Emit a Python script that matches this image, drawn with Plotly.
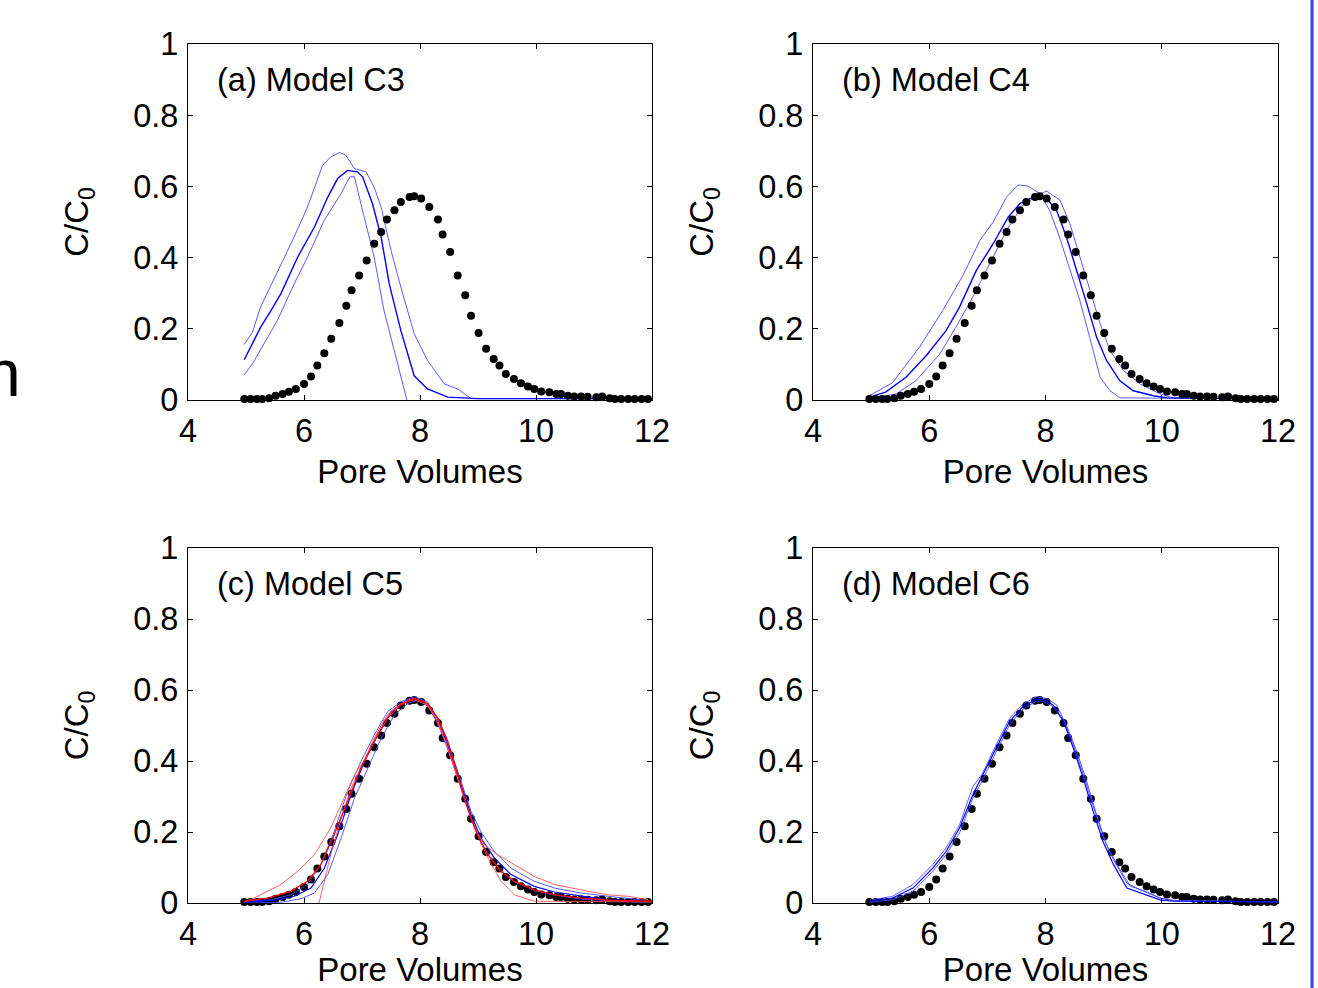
import plotly.graph_objects as go

# ---------------- data ----------------
obs_x = [4.97, 5.08, 5.19, 5.28, 5.40, 5.51, 5.63, 5.74, 5.86, 6.00, 6.12, 6.23, 6.35, 6.47, 6.61,
         6.73, 6.82, 6.95, 7.08, 7.21, 7.33, 7.43, 7.56, 7.67, 7.82, 7.90, 8.02, 8.16, 8.31, 8.39,
         8.52, 8.65, 8.78, 8.88, 9.01, 9.14, 9.27, 9.37, 9.48, 9.62, 9.74, 9.86, 9.97, 10.09, 10.23,
         10.35, 10.43, 10.55, 10.66, 10.78, 10.89, 11.04, 11.14, 11.27, 11.36, 11.47, 11.59, 11.70,
         11.82, 11.93]
obs_y = [0.003, 0.003, 0.003, 0.003, 0.005, 0.012, 0.017, 0.023, 0.031, 0.045, 0.066, 0.097, 0.131,
         0.172, 0.216, 0.265, 0.308, 0.350, 0.392, 0.439, 0.472, 0.507, 0.533, 0.556, 0.570, 0.572,
         0.566, 0.542, 0.507, 0.465, 0.416, 0.350, 0.294, 0.237, 0.188, 0.144, 0.115, 0.097, 0.073,
         0.059, 0.047, 0.038, 0.031, 0.024, 0.022, 0.017, 0.017, 0.012, 0.010, 0.010, 0.009, 0.008,
         0.010, 0.005, 0.003, 0.003, 0.003, 0.003, 0.003, 0.003]

# (a) Model C3
a_mid_x = [4.97, 5.25, 5.43, 5.60, 5.89, 6.18, 6.41, 6.58, 6.75, 6.92, 7.01, 7.18, 7.33, 7.47, 7.67, 7.90, 8.13, 8.48, 9.0, 12.0]
a_mid_y = [0.113, 0.204, 0.251, 0.298, 0.401, 0.486, 0.570, 0.622, 0.645, 0.641, 0.627, 0.552, 0.458, 0.326, 0.195, 0.068, 0.031, 0.008, 0.004, 0.004]
a_up_x = [4.97, 5.11, 5.25, 5.43, 5.60, 5.83, 6.06, 6.32, 6.46, 6.61, 6.72, 6.87, 7.07, 7.21, 7.33, 7.50, 7.67, 7.90, 8.13, 8.42, 8.65, 8.88, 12.0]
a_up_y = [0.156, 0.190, 0.261, 0.322, 0.383, 0.458, 0.542, 0.659, 0.683, 0.695, 0.688, 0.650, 0.641, 0.598, 0.542, 0.420, 0.317, 0.186, 0.111, 0.045, 0.031, 0.004, 0.004]
a_lo_x = [4.97, 5.11, 5.31, 5.54, 5.83, 6.06, 6.35, 6.64, 6.79, 6.87, 6.98, 7.21, 7.38, 7.61, 7.76, 7.90]
a_lo_y = [0.071, 0.101, 0.158, 0.223, 0.326, 0.401, 0.505, 0.580, 0.627, 0.627, 0.552, 0.401, 0.251, 0.101, -0.002, -0.08]

# (b) Model C4
b_mid_x = [4.97, 5.25, 5.60, 5.95, 6.29, 6.52, 6.81, 7.10, 7.36, 7.56, 7.79, 7.90, 8.02, 8.19, 8.36, 8.54, 8.71, 8.88, 9.05, 9.28, 9.51, 9.86, 10.09, 12.0]
b_mid_y = [0.008, 0.022, 0.064, 0.125, 0.195, 0.261, 0.364, 0.439, 0.514, 0.552, 0.570, 0.575, 0.566, 0.533, 0.458, 0.364, 0.270, 0.176, 0.111, 0.054, 0.026, 0.012, 0.006, 0.003]
b_up_x = [4.97, 5.37, 5.83, 6.23, 6.58, 6.87, 7.10, 7.33, 7.53, 7.70, 7.90, 8.07, 8.24, 8.42, 8.59, 8.76, 8.94, 9.11, 9.28, 12.0]
b_up_y = [0.012, 0.049, 0.148, 0.251, 0.350, 0.448, 0.500, 0.570, 0.604, 0.601, 0.580, 0.533, 0.458, 0.364, 0.280, 0.176, 0.064, 0.026, 0.006, 0.003]
b_lo_x = [4.97, 5.43, 5.77, 6.18, 6.46, 6.75, 7.04, 7.33, 7.61, 7.90, 8.02, 8.25, 8.42, 8.59, 8.76, 8.94, 9.11, 9.34, 9.63, 9.97, 10.20, 12.0]
b_lo_y = [0.003, 0.017, 0.054, 0.129, 0.205, 0.289, 0.383, 0.477, 0.547, 0.578, 0.587, 0.561, 0.495, 0.401, 0.308, 0.214, 0.139, 0.083, 0.045, 0.017, 0.006, 0.003]

# (c) Model C5 - blue ensemble
c_mid_x = [4.97, 5.48, 5.83, 6.12, 6.35, 6.58, 6.81, 7.04, 7.27, 7.50, 7.73, 7.90, 8.13, 8.36, 8.54, 8.71, 8.88, 9.05, 9.28, 9.57, 9.97, 10.32, 10.78, 11.24, 11.93]
c_mid_y = [0.002, 0.007, 0.019, 0.042, 0.098, 0.192, 0.305, 0.398, 0.473, 0.539, 0.567, 0.576, 0.558, 0.492, 0.417, 0.333, 0.248, 0.183, 0.127, 0.080, 0.047, 0.031, 0.019, 0.009, 0.005]
c_up_x = [4.97, 5.43, 5.77, 6.06, 6.29, 6.52, 6.75, 6.98, 7.21, 7.44, 7.67, 7.90, 8.13, 8.36, 8.54, 8.71, 8.88, 9.05, 9.28, 9.57, 9.97, 10.32, 10.78, 11.24, 11.93]
c_up_y = [0.005, 0.009, 0.023, 0.052, 0.108, 0.201, 0.314, 0.398, 0.473, 0.539, 0.567, 0.581, 0.567, 0.501, 0.426, 0.342, 0.258, 0.201, 0.145, 0.098, 0.061, 0.042, 0.028, 0.019, 0.007]
c_lo_x = [4.97, 5.60, 5.95, 6.18, 6.41, 6.64, 6.87, 7.10, 7.33, 7.56, 7.79, 7.96, 8.19, 8.36, 8.54, 8.71, 8.88, 9.05, 9.28, 9.57, 9.97, 10.32, 10.78, 11.36, 11.93]
c_lo_y = [0.0, 0.002, 0.012, 0.028, 0.080, 0.183, 0.295, 0.380, 0.464, 0.530, 0.562, 0.572, 0.548, 0.483, 0.408, 0.323, 0.239, 0.169, 0.112, 0.066, 0.035, 0.022, 0.011, 0.005, 0.002]
# (c) Model C5 - red ensemble
c_rmid_x = [4.97, 5.37, 5.77, 6.06, 6.29, 6.52, 6.75, 6.98, 7.21, 7.44, 7.67, 7.90, 8.13, 8.31, 8.48, 8.65, 8.82, 8.99, 9.17, 9.40, 9.63, 9.97, 10.32, 10.78, 11.36, 11.93, 12.0]
c_rmid_y = [0.005, 0.014, 0.033, 0.061, 0.108, 0.192, 0.286, 0.380, 0.455, 0.520, 0.558, 0.576, 0.562, 0.520, 0.455, 0.361, 0.267, 0.192, 0.136, 0.089, 0.061, 0.037, 0.023, 0.014, 0.007, 0.005, 0.005]
c_rup_x = [4.97, 5.14, 5.60, 5.89, 6.18, 6.46, 6.69, 6.87, 7.10, 7.33, 7.56, 7.79, 7.90, 8.07, 8.24, 8.42, 8.59, 8.76, 8.94, 9.11, 9.34, 9.63, 9.97, 10.32, 10.61, 10.90, 11.24, 11.59, 11.93]
c_rup_y = [0.003, 0.014, 0.052, 0.089, 0.136, 0.211, 0.295, 0.361, 0.417, 0.501, 0.548, 0.572, 0.576, 0.567, 0.530, 0.464, 0.380, 0.295, 0.211, 0.164, 0.136, 0.108, 0.075, 0.052, 0.042, 0.033, 0.023, 0.019, 0.009]
c_rlo_x = [6.20, 6.26, 6.46, 6.64, 6.81, 6.98, 7.21, 7.44, 7.67, 7.90, 8.13, 8.31, 8.48, 8.65, 8.82, 8.99, 9.17, 9.40, 9.63, 9.97, 12.0]
c_rlo_y = [-0.05, 0.0, 0.136, 0.239, 0.323, 0.380, 0.464, 0.530, 0.562, 0.572, 0.558, 0.511, 0.436, 0.351, 0.267, 0.192, 0.127, 0.061, 0.023, 0.005, 0.003]

# (d) Model C6
d_mid_x = [4.97, 5.37, 5.72, 6.06, 6.29, 6.52, 6.75, 6.92, 7.15, 7.38, 7.61, 7.84, 7.96, 8.13, 8.31, 8.48, 8.65, 8.82, 8.99, 9.17, 9.40, 9.63, 9.97, 10.20, 12.0]
d_mid_y = [0.005, 0.014, 0.042, 0.098, 0.145, 0.211, 0.305, 0.361, 0.436, 0.511, 0.553, 0.574, 0.573, 0.558, 0.511, 0.436, 0.351, 0.258, 0.173, 0.108, 0.042, 0.028, 0.009, 0.005, 0.003]
d_up_x = [4.97, 5.37, 5.72, 6.06, 6.29, 6.52, 6.75, 6.92, 7.15, 7.38, 7.61, 7.84, 8.02, 8.19, 8.36, 8.54, 8.71, 8.88, 9.05, 9.23, 9.46, 9.69, 9.97, 10.20, 12.0]
d_up_y = [0.007, 0.019, 0.052, 0.108, 0.155, 0.220, 0.328, 0.366, 0.445, 0.520, 0.560, 0.581, 0.576, 0.558, 0.501, 0.426, 0.342, 0.248, 0.164, 0.108, 0.047, 0.035, 0.014, 0.007, 0.003]
d_lo_x = [4.97, 5.37, 5.72, 6.06, 6.29, 6.52, 6.75, 6.92, 7.15, 7.38, 7.61, 7.84, 7.96, 8.13, 8.31, 8.48, 8.65, 8.82, 8.99, 9.17, 9.40, 9.63, 9.97, 10.20, 12.0]
d_lo_y = [0.002, 0.009, 0.033, 0.089, 0.136, 0.197, 0.295, 0.347, 0.426, 0.501, 0.546, 0.568, 0.569, 0.553, 0.515, 0.445, 0.361, 0.272, 0.187, 0.122, 0.056, 0.037, 0.014, 0.007, 0.003]

panel_titles = ["(a) Model C3", "(b) Model C4", "(c) Model C5", "(d) Model C6"]
x_ticks = [4, 6, 8, 10, 12]
y_ticks = [0, 0.2, 0.4, 0.6, 0.8, 1]
y_ticktext = ["0", "0.2", "0.4", "0.6", "0.8", "1"]

# ---------------- styling ----------------
W, H = 1318, 988
FONT = "Arial, Liberation Sans, sans-serif"
FS = 32.5
FS_T = 33
BLUE = "rgb(0,0,255)"
BLUE_LT = "rgb(70,70,255)"
RED = "rgb(255,0,0)"
RED_LT = "rgb(255,80,80)"

# panel pixel boxes: (left, right, top, bottom)
boxes = [(188, 652, 44, 400), (813, 1278, 44, 400), (188, 652, 548, 903), (813, 1278, 548, 903)]

fig = go.Figure()

def add_line(i, xs, ys, color, width):
    ax = "" if i == 0 else str(i + 1)
    fig.add_trace(go.Scatter(x=xs, y=ys, mode="lines", line=dict(color=color, width=width),
                             xaxis="x" + ax, yaxis="y" + ax, showlegend=False, hoverinfo="skip"))

def add_obs(i):
    ax = "" if i == 0 else str(i + 1)
    fig.add_trace(go.Scatter(x=obs_x, y=obs_y, mode="markers",
                             marker=dict(color="black", size=8, symbol="circle", line=dict(width=0)),
                             xaxis="x" + ax, yaxis="y" + ax, showlegend=False, cliponaxis=False))

# panel a
add_line(0, a_up_x, a_up_y, BLUE_LT, 0.9)
add_line(0, a_lo_x, a_lo_y, BLUE_LT, 0.9)
add_line(0, a_mid_x, a_mid_y, BLUE, 1.4)
add_obs(0)
# panel b
add_line(1, b_up_x, b_up_y, BLUE_LT, 0.9)
add_line(1, b_lo_x, b_lo_y, BLUE_LT, 0.9)
add_line(1, b_mid_x, b_mid_y, BLUE, 1.4)
add_obs(1)
# panel c
add_obs(2)
add_line(2, c_up_x, c_up_y, BLUE_LT, 0.9)
add_line(2, c_lo_x, c_lo_y, BLUE_LT, 0.9)
add_line(2, c_mid_x, c_mid_y, BLUE, 1.2)
add_line(2, c_rup_x, c_rup_y, RED_LT, 0.9)
add_line(2, c_rlo_x, c_rlo_y, RED_LT, 0.9)
add_line(2, c_rmid_x, c_rmid_y, RED, 1.3)
# panel d
add_obs(3)
add_line(3, d_up_x, d_up_y, BLUE_LT, 0.9)
add_line(3, d_lo_x, d_lo_y, BLUE_LT, 0.9)
add_line(3, d_mid_x, d_mid_y, BLUE, 1.2)

layout = dict(
    template="none",
    width=W, height=H, margin=dict(l=0, r=0, t=0, b=0, pad=0, autoexpand=False),
    paper_bgcolor="white", plot_bgcolor="white",
    font=dict(family=FONT, size=FS, color="black"),
    showlegend=False,
)

annotations = []
for i, (l, r, t, b) in enumerate(boxes):
    ax = "" if i == 0 else str(i + 1)
    xd = [l / W, r / W]
    yd = [1 - b / H, 1 - t / H]
    common = dict(showline=True, mirror="ticks", linecolor="black", linewidth=1.2,
                  ticks="inside", ticklen=5, tickcolor="black", tickwidth=1.2, automargin=False,
                  ticklabelstandoff=2,
                  showgrid=False, zeroline=False, tickfont=dict(family=FONT, size=FS, color="black"))
    layout["xaxis" + ax] = dict(domain=xd, range=[4, 12], tickvals=x_ticks, anchor="y" + ax,
                                title=dict(text="Pore Volumes", font=dict(family=FONT, size=FS_T), standoff=11),
                                **common)
    layout["yaxis" + ax] = dict(domain=yd, range=[0, 1], tickvals=y_ticks, ticktext=y_ticktext,
                                anchor="x" + ax,
                                title=dict(text="C/C<sub>0</sub>", font=dict(family=FONT, size=FS_T), standoff=34),
                                **common)
    annotations.append(dict(text=panel_titles[i], x=4.47, y=0.90, xref="x" + ax, yref="y" + ax,
                            xanchor="left", yanchor="middle", showarrow=False,
                            font=dict(family=FONT, size=FS, color="black")))

# cut-off word at the left edge of the slide
annotations.append(dict(text="n", x=23 / W, y=1 - 373 / H, xref="paper", yref="paper",
                        xanchor="right", yanchor="middle", showarrow=False,
                        font=dict(family=FONT, size=66, color="black")))
layout["annotations"] = annotations
layout["shapes"] = [dict(type="line", xref="paper", yref="paper", x0=1312 / W, x1=1312 / W, y0=0, y1=1,
                         line=dict(color="rgb(60,60,255)", width=3))]

fig.update_layout(**layout)
fig.write_html("out.html", config={"displayModeBar": False},
               post_script="document.body.style.margin='0px';document.body.style.overflow='hidden';")
